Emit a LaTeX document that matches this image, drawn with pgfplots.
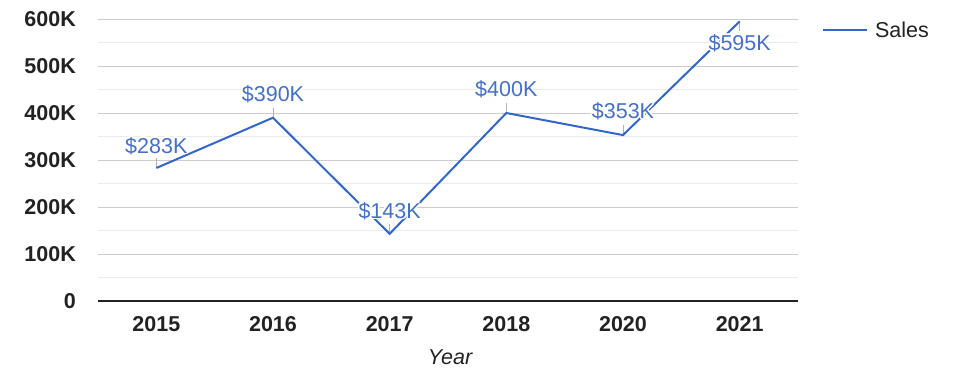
\documentclass[border=0pt]{standalone}
\usepackage{pgfplots}
\pgfplotsset{compat=1.18}
\usepackage{pgfplotstable}
\usepackage{fontspec}
\setmainfont{Liberation Sans}
\definecolor{lineblue}{HTML}{3366CC}
\definecolor{labelblue}{HTML}{4470CA}
\definecolor{majgrid}{HTML}{CCCCCC}
\definecolor{mingrid}{HTML}{EBEBEB}
\definecolor{txt}{HTML}{222222}
\newcommand\haloshift[3]{\rlap{\hspace*{#1}\raisebox{#2}{\color{white}#3}}}
\newcommand\halo[1]{\leavevmode
  \haloshift{1.6pt}{0pt}{#1}\haloshift{-1.6pt}{0pt}{#1}%
  \haloshift{0pt}{1.6pt}{#1}\haloshift{0pt}{-1.6pt}{#1}%
  \haloshift{1.1pt}{1.1pt}{#1}\haloshift{-1.1pt}{1.1pt}{#1}%
  \haloshift{1.1pt}{-1.1pt}{#1}\haloshift{-1.1pt}{-1.1pt}{#1}%
  #1}
\pgfplotstableread{
x y k dy ep em
0 283000 283 22 21000 0
1 390000 390 23 21000 0
2 143000 143 23 21000 0
3 400000 400 24 21000 0
4 353000 353 24 21000 0
5 595000 595 -22 0 21000
}\salesdata
\begin{document}
\begin{tikzpicture}[font=\fontsize{21.5}{26}\selectfont]
\useasboundingbox (0,0) rectangle (975pt,378pt);
\begin{axis}[
  at={(98pt,77pt)}, anchor=south west,
  scale only axis, width=700pt, height=282pt,
  xmin=-0.5, xmax=5.5, ymin=0, ymax=600000,
  clip=false,
  axis line style={draw=none},
  major tick length=0pt, minor tick length=0pt,
  xtick={0,1,2,3,4,5},
  xticklabels={2015,2016,2017,2018,2020,2021},
  ytick={0,100000,200000,300000,400000,500000,600000},
  yticklabels={0,100K,200K,300K,400K,500K,600K},
  minor ytick={50000,150000,250000,350000,450000,550000},
  ymajorgrids, yminorgrids,
  major grid style={majgrid, line width=1pt},
  minor grid style={mingrid, line width=1pt},
  scaled y ticks=false,
  /pgf/number format/assume math mode=true,
  yticklabel style={anchor=east, inner sep=0pt, xshift=-22pt, font=\fontsize{21.5}{26}\selectfont\bfseries, text=txt},
  xticklabel style={anchor=center, inner sep=0pt, yshift=-23pt, font=\fontsize{21.5}{26}\selectfont\bfseries, text=txt},
  xlabel={Year},
  every axis x label/.style={at={(axis description cs:0.503,0)}, anchor=center, yshift=-56pt, font=\fontsize{21.5}{26}\selectfont\itshape, text=txt},
  legend style={at={(axis description cs:1.0343,0.961)}, anchor=west, draw=none, fill=none,
    inner sep=0pt, outer sep=0pt, nodes={inner sep=0pt, text=txt}, column sep=7pt},
  legend image code/.code={\draw[#1] (0pt,0pt) -- (44pt,0pt);},
]
\draw[txt, line width=1.5pt] (axis cs:-0.5,0) -- (axis cs:5.5,0);
\addplot[only marks, mark=*, mark size=0pt, mark options={draw=none, fill=none}, forget plot,
  error bars/.cd, y dir=both, y explicit, error mark=none,
  error bar style={draw=gray!60, line width=1pt}]
  table[x=x, y=y, y error plus=ep, y error minus=em] {\salesdata};
\addplot[lineblue, line width=2pt, mark=none,
  point meta=explicit symbolic,
  visualization depends on={\thisrow{dy} \as \dy},
  nodes near coords={\halo{\$\pgfplotspointmeta K}},
  every node near coord/.style={anchor=center, inner sep=0pt, yshift=\dy pt, text=labelblue, font=\fontsize{21.5}{26}\selectfont}]
  table[x=x, y=y, meta=k] {\salesdata};
\addlegendentry{Sales}
\end{axis}
\end{tikzpicture}
\end{document}
